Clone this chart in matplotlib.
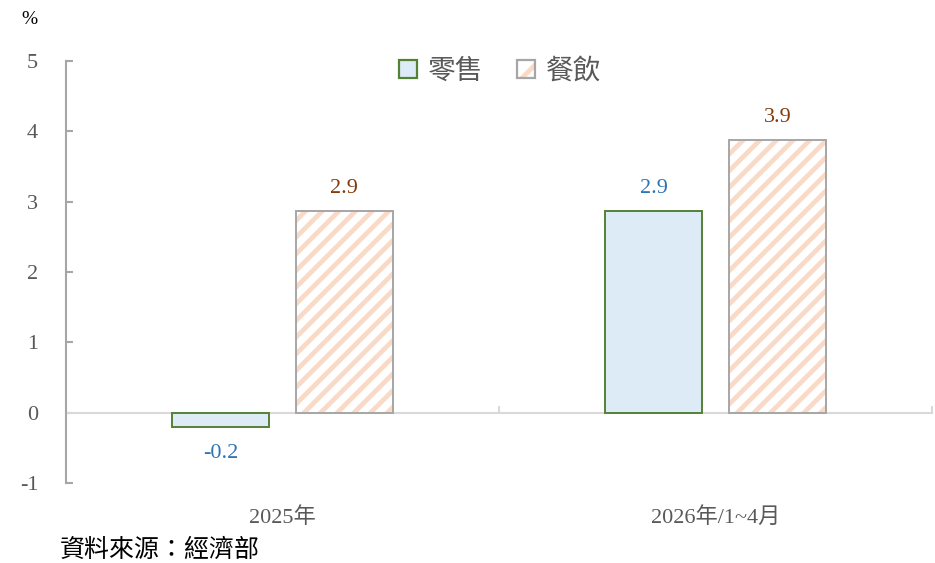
#!/usr/bin/env python3
"""Retail vs food-service growth, 2025 and 2026/1-4."""

import matplotlib

matplotlib.use("Agg")
import matplotlib.pyplot as plt
import numpy as np
from matplotlib.legend_handler import HandlerTuple
from matplotlib.patches import Patch

CATEGORIES = ["2025年", "2026年/1~4月"]
SERIES_NAMES = ["零售", "餐飲"]
RETAIL = [-0.21, 2.86]
FOOD = [2.86, 3.87]
Y_TICKS = [-1, 0, 1, 2, 3, 4, 5]
SOURCE = "資料來源：經濟部"

FONTS = ["Liberation Serif", "Noto Sans CJK TC", "DejaVu Sans"]
GREY_TEXT = "#595959"
PEACH = "#F9DAC6"

plt.rcParams["font.family"] = FONTS
plt.rcParams["hatch.linewidth"] = 3.4

fig = plt.figure(figsize=(9.35, 5.63), dpi=100)
ax = fig.add_axes([0.0706, 0.1421, 0.9262, 0.7496])

x = np.arange(len(CATEGORIES))
width = 0.224
off = 0.143

ax.bar(x - off, RETAIL, width, color="#DDEBF7", edgecolor="#548235",
       linewidth=1.4, zorder=3)
# hatch layer, then outline on top
ax.bar(x + off, FOOD, width, color="white", edgecolor=PEACH, hatch="//",
       linewidth=0, zorder=3)
ax.bar(x + off, FOOD, width, color="none", edgecolor="#A6A6A6",
       linewidth=1.4, zorder=4)

for xi, v in zip(x - off, RETAIL):
    y = v + 0.32 if v >= 0 else v - 0.37
    ax.text(xi, y, f"{v:.1f}", ha="center", va="center", fontsize=16, color="#2E75B6")
for xi, v in zip(x + off, FOOD):
    ax.text(xi, v + 0.32, f"{v:.1f}", ha="center", va="center", fontsize=16, color="#843C0C")

ax.set_xlim(-0.5, 1.5)
ax.set_ylim(-1, 5)
ax.set_yticks(Y_TICKS)
ax.set_yticklabels([str(t) for t in Y_TICKS])

ax.spines["top"].set_visible(False)
ax.spines["right"].set_visible(False)
ax.spines["left"].set_color("#A6A6A6")
ax.spines["left"].set_linewidth(1.5)
ax.spines["bottom"].set_position(("data", 0))
ax.spines["bottom"].set_color("#D9D9D9")
ax.spines["bottom"].set_linewidth(1.5)
ax.spines["bottom"].set_zorder(2)

ax.tick_params(axis="y", direction="in", length=5, width=1.5, color="#A6A6A6",
               labelsize=16, labelcolor=GREY_TEXT, pad=20)
ax.set_xticks(x)
ax.set_xticklabels(CATEGORIES)
ax.set_xticks([0.5, 1.5], minor=True)
ax.tick_params(axis="x", which="major", length=0, labelsize=16,
               labelcolor=GREY_TEXT, pad=68)
ax.tick_params(axis="x", which="minor", direction="in", length=5, width=1.5,
               color="#D9D9D9")

h_retail = Patch(facecolor="#DDEBF7", edgecolor="#548235", linewidth=1.6)
h_food = (Patch(facecolor="white", edgecolor=PEACH, linewidth=0, hatch="/"),
          Patch(facecolor="none", edgecolor="#A6A6A6", linewidth=1.6))
leg = ax.legend([h_retail, h_food], SERIES_NAMES, loc="center",
                bbox_to_anchor=(0.501, 0.974), ncol=2, frameon=False,
                fontsize=20, handlelength=0.65, handleheight=0.65,
                handletextpad=0.4, columnspacing=1.2,
                handler_map={tuple: HandlerTuple(ndivide=1, pad=0)})
for t in leg.get_texts():
    t.set_color(GREY_TEXT)

fig.text(0.032, 0.965, "%", fontsize=14, color="black", ha="center", va="center")
fig.text(0.064, 0.023, SOURCE, fontsize=18, color="black", ha="left", va="center")

fig.savefig("out.png", dpi=100)
